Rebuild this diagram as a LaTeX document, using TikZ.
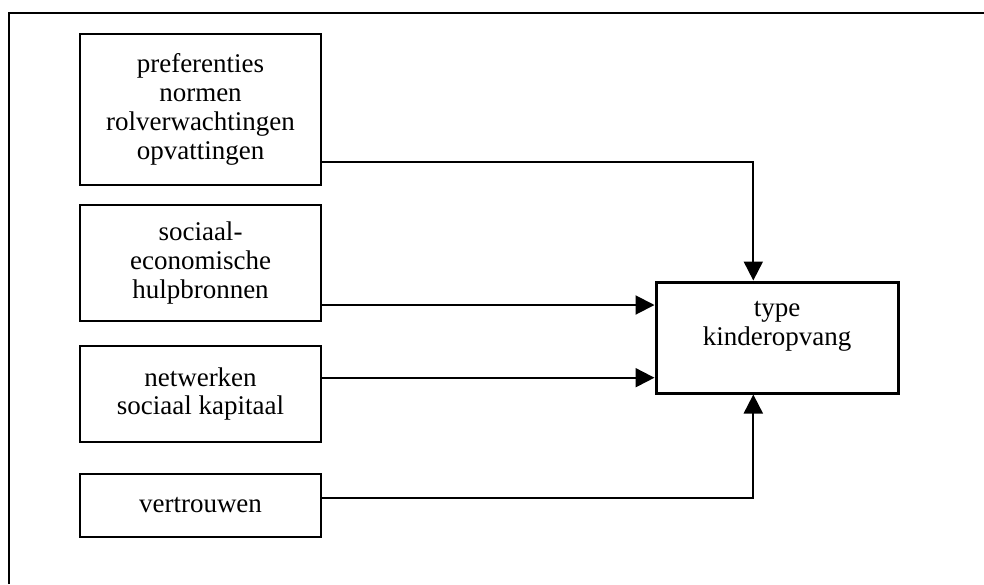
\documentclass[tikz,border=0pt]{standalone}
\usepackage{fontspec}
\setmainfont{Liberation Serif}
\usetikzlibrary{arrows.meta}

\begin{document}
\begin{tikzpicture}[x=0.5pt, y=-0.5pt,
	factor/.style={draw, line width=1pt, minimum width=120.5pt, inner sep=0pt, align=center, font=\fontsize{13.5}{14.4}\selectfont},
	outcome/.style={draw, line width=1.5pt, minimum width=121pt, minimum height=55.5pt},
	link/.style={line width=1pt, -{Triangle[length=9.5pt, width=9.5pt]}}]
	
	\useasboundingbox (0,0) rectangle (984,584);
	
	% Frame
	\draw[line width=1.1pt] (8.7,584) -- (8.7,13.3) -- (984,13.3);
	
	% Factors
	\node[factor, minimum height=75.5pt] at (200.5,109.5) (pref) {preferenties\\normen\\rolverwachtingen\\opvattingen};
	\node[factor, minimum height=58pt] at (200.5,263) (soc) {sociaal-\\economische\\hulpbronnen};
	\node[factor, minimum height=47.75pt] at (200.5,394) (netw) {netwerken\\sociaal kapitaal};
	\node[factor, minimum height=31.5pt] at (200.5,505.5) (vert) {vertrouwen};
	
	% Outcome
	\node[outcome] at (777,337.5) (type) {};
	\node[align=center, inner sep=0pt, font=\fontsize{13.5}{14.4}\selectfont] at (777,326) (typelabel) {type\\kinderopvang};
	
	% Exit points
	\coordinate (prefout) at ([yshift=-26.1pt]pref.east);
	\coordinate (socout) at ([yshift=-21pt]soc.east);
	\coordinate (netwout) at ([yshift=8.15pt]netw.east);
	\coordinate (vertout) at ([yshift=3.6pt]vert.east);
	
	% Arrows
	\draw[link] (prefout) -| ([xshift=-11.85pt]type.north);
	\draw[link] (socout) -- (socout -| type.west);
	\draw[link] (netwout) -- (netwout -| type.west);
	\draw[link] (vertout) -| ([xshift=-11.85pt]type.south);
	
\end{tikzpicture}
\end{document}
